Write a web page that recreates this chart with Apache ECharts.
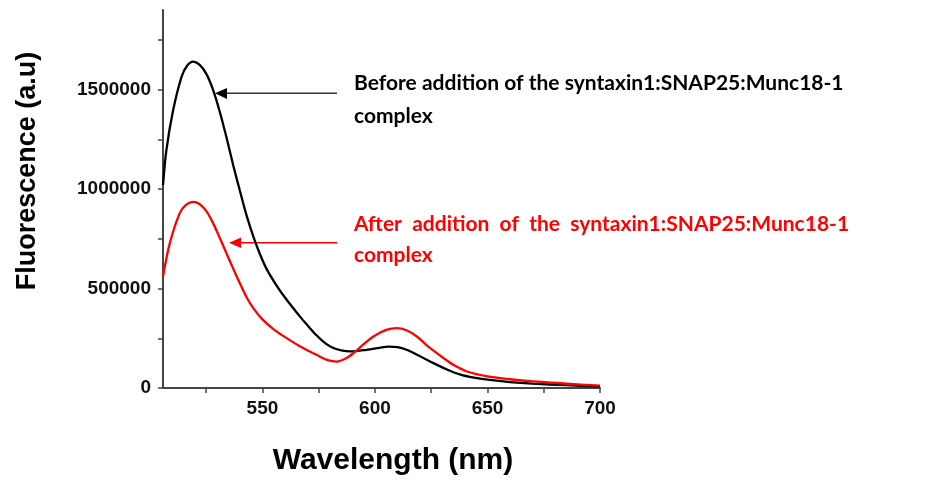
<!DOCTYPE html>
<html>
<head>
<meta charset="utf-8">
<script src="https://cdn.jsdelivr.net/npm/echarts@6/dist/echarts.min.js"></script>
<style>
html,body{margin:0;padding:0;background:#fff;}
#chart{width:939px;height:483px;}
</style>
</head>
<body>
<div id="chart"></div>
<script>
// Wavelength (nm) samples and fluorescence values
var wlBefore = [505.8, 507.3, 510.3, 514, 516.5, 519.2, 522, 525, 528, 531, 534, 537, 540, 543, 546, 549, 552, 556, 560, 566.6, 570, 574, 578, 581.5, 585, 588.9, 596.3, 602, 606, 610, 614, 620, 626, 632, 638, 644, 650, 660, 670, 685, 700];
var before   = [1020000, 1195000, 1396000, 1563000, 1620000, 1641000, 1625000, 1580000, 1500000, 1390000, 1260000, 1120000, 990000, 865000, 760000, 670000, 595000, 520000, 455000, 360000, 315000, 265000, 224000, 201000, 189000, 184000, 192000, 202000, 208000, 205000, 192000, 160000, 125000, 93000, 67000, 52000, 42000, 30000, 22000, 14000, 8000];

var wlAfter = [505.8, 508.8, 513.2, 516, 519.2, 522, 525, 528, 531, 534, 537, 540, 543, 546, 550, 555, 559.2, 566.6, 574, 579, 583, 587, 590.4, 595, 599.3, 605, 609.7, 614, 618.6, 624, 630.5, 635, 640.9, 650, 660, 670.5, 685, 700];
var after   = [560000, 727000, 878000, 920000, 936000, 925000, 890000, 830000, 755000, 677000, 600000, 525000, 455000, 400000, 345000, 295000, 262000, 210000, 167000, 140000, 133000, 148000, 175000, 220000, 259000, 292000, 301000, 290000, 259000, 205000, 150000, 115000, 83000, 58000, 44000, 33000, 22000, 11500];

var xLabels = [550, 600, 650, 700];
var xTicks = [525, 550, 575, 600, 625, 650, 675, 700];
var yLabels = [0, 500000, 1000000, 1500000];
var yTicks = [0, 250000, 500000, 750000, 1000000, 1250000, 1500000, 1750000];

var beforeText = ['Before addition of the syntaxin1:SNAP25:Munc18-1', 'complex'];
var afterText = ['After  addition  of  the  syntaxin1:SNAP25:Munc18-1', 'complex'];
var xTitle = 'Wavelength (nm)';
var yTitle = 'Fluorescence (a.u)';

function pairs(xs, ys){ return xs.map(function(x,i){ return [x, ys[i]]; }); }

var chart = echarts.init(document.getElementById('chart'), null, {renderer:'canvas'});
var axisColor = '#444';
var labelFont = {fontFamily:'Liberation Sans', fontWeight:'bold', fontSize:19, color:'#111'};
var annFont = 'bold 21px Lato, sans-serif';

chart.setOption({
  animation:false,
  grid:{left:163, top:10, right:339, bottom:95, containLabel:false},
  xAxis:{
    type:'value', min:505.8, max:700,
    axisLine:{show:true, lineStyle:{color:axisColor, width:2}},
    axisTick:{show:true, length:5, customValues:xTicks, lineStyle:{color:axisColor, width:1.5}},
    axisLabel:Object.assign({customValues:xLabels, margin:11, formatter:function(v){return String(v);}}, labelFont),
    splitLine:{show:false}
  },
  yAxis:{
    type:'value', min:0, max:1900000,
    axisLine:{show:true, lineStyle:{color:axisColor, width:2}},
    axisTick:{show:true, length:5, customValues:yTicks, lineStyle:{color:axisColor, width:1.5}},
    axisLabel:Object.assign({customValues:yLabels, margin:12, formatter:function(v){return String(v);}}, labelFont),
    splitLine:{show:false}
  },
  series:[
    {type:'line', name:'Before', data:pairs(wlBefore, before), smooth:0.3, showSymbol:false, lineStyle:{color:'#000', width:2.3}},
    {type:'line', name:'After', data:pairs(wlAfter, after), smooth:0.3, showSymbol:false, lineStyle:{color:'#ff0000', width:2.3}}
  ],
  graphic:[
    {type:'text', x:393, y:461, style:{text:xTitle, font:'bold 30px Liberation Sans, Arial, sans-serif', fill:'#000', align:'center', verticalAlign:'middle'}},
    {type:'text', x:28, y:171, rotation:Math.PI/2, style:{text:yTitle, font:'bold 27px Liberation Sans, Arial, sans-serif', fill:'#000', align:'center', verticalAlign:'middle'}},
    // black arrow
    {type:'line', shape:{x1:226, y1:93.3, x2:337, y2:93.3}, style:{stroke:'#333', lineWidth:1.6}},
    {type:'polygon', shape:{points:[[215,93.3],[227,88],[227,99]]}, style:{fill:'#000'}},
    // red arrow
    {type:'line', shape:{x1:240, y1:242.7, x2:337, y2:242.7}, style:{stroke:'#ff0000', lineWidth:1.6}},
    {type:'polygon', shape:{points:[[229,242.7],[241,237.5],[241,248]]}, style:{fill:'#ff0000'}},
    // annotation texts
    {type:'text', x:354, y:94, style:{text:beforeText[0], font:annFont, fill:'#000', align:'left', verticalAlign:'bottom'}},
    {type:'text', x:354, y:127, style:{text:beforeText[1], font:annFont, fill:'#000', align:'left', verticalAlign:'bottom'}},
    {type:'text', x:354, y:235, style:{text:afterText[0], font:annFont, fill:'#ff0000', align:'left', verticalAlign:'bottom'}},
    {type:'text', x:354, y:266, style:{text:afterText[1], font:annFont, fill:'#ff0000', align:'left', verticalAlign:'bottom'}}
  ]
});
</script>
</body>
</html>
